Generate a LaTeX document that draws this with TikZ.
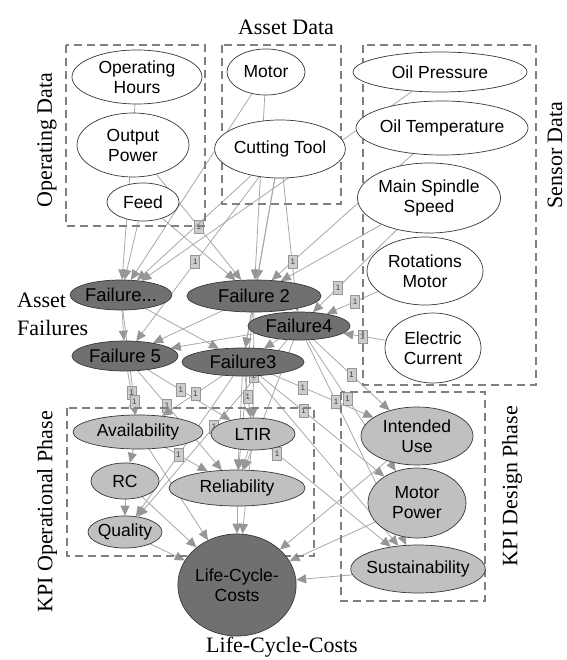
\documentclass[tikz,border=0pt]{standalone}
\usepackage{fontspec}
\setmainfont{Liberation Serif}
\setsansfont{Liberation Sans}
\usetikzlibrary{shapes.geometric,arrows.meta}

\definecolor{edgecol}{RGB}{168,168,168}
\definecolor{tipcol}{RGB}{150,150,150}
\definecolor{failfill}{RGB}{112,112,112}
\definecolor{kpifill}{RGB}{192,192,192}
\definecolor{boxcol}{RGB}{128,128,128}
\definecolor{rimcol}{RGB}{55,55,55}
\definecolor{lblfill}{RGB}{205,205,205}
\definecolor{lblrim}{RGB}{150,150,150}

\pgfdeclarelayer{edges}
\pgfsetlayers{edges,main}

\tikzset{
  ell/.style={ellipse, draw=rimcol, line width=0.7pt, inner sep=0pt, align=center,
              font=\sffamily\fontsize{17.5}{20}\selectfont},
  datanode/.style 2 args={ell, fill=white, minimum width=#1, minimum height=#2},
  failnode/.style 2 args={ell, fill=failfill, minimum width=#1, minimum height=#2,
              font=\sffamily\fontsize{18.5}{21}\selectfont},
  kpinode/.style 2 args={ell, fill=kpifill, minimum width=#1, minimum height=#2},
  costnode/.style 2 args={ell, fill=failfill, minimum width=#1, minimum height=#2},
  conn/.style={draw=edgecol, line width=0.8pt,
               -{Triangle[length=10pt,width=9pt,fill=tipcol,color=tipcol]}},
  lbl/.style={rectangle, fill=lblfill, draw=lblrim, line width=0.5pt, inner sep=0pt,
              minimum width=9pt, minimum height=13pt, text=black!75,
              font=\sffamily\fontsize{8}{8}\selectfont},
  grpbox/.style={draw=boxcol, line width=1.8pt, dash pattern=on 8pt off 5pt},
  grptitle/.style={font=\fontsize{22}{28}\selectfont, inner sep=0pt, align=left},
}

\begin{document}
\begin{tikzpicture}[x=1pt,y=-1pt]
  \useasboundingbox (0,0) rectangle (566,660);

  % group frames
  \draw[grpbox] (66,45) rectangle (205,226);
  \draw[grpbox] (222,45) rectangle (341,204);
  \draw[grpbox] (363,45) rectangle (536,385);
  \draw[grpbox] (67,408) rectangle (314,556);
  \draw[grpbox] (341,392) rectangle (485,601);

  % group titles
  \node[grptitle, anchor=base] (tasset) at (286,35) {Asset Data};
  \node[grptitle, rotate=90] (topdata) at (47,140) {Operating Data};
  \node[grptitle, rotate=90] (tsensor) at (555,155) {Sensor Data};
  \node[grptitle, anchor=west] (tfail) at (17,314) {Asset\\Failures};
  \node[grptitle, rotate=90] (tkpiop) at (47,512) {KPI Operational Phase};
  \node[grptitle, rotate=90] (tkpids) at (512,486) {KPI Design Phase};
  \node[grptitle, anchor=base] (tlcc) at (282,652) {Life-Cycle-Costs};

  % operating data
  \node[datanode={130pt}{54pt}] (oh) at (137,77) {Operating\\Hours};
  \node[datanode={112pt}{64pt}] (op) at (133,145) {Output\\Power};
  \node[datanode={72pt}{38pt}] (feed) at (143,202) {Feed};
  % asset data
  \node[datanode={78pt}{46pt}] (motor) at (266,72) {Motor};
  \node[datanode={112pt}{58pt}] (ct) at (280,149) {Cutting Tool};
  % sensor data
  \node[datanode={174pt}{40pt}, inner sep=-3pt] (oilp) at (440,72) {Oil Pressure};
  \node[datanode={172pt}{54pt}, inner sep=-4pt] (oilt) at (442,128) {Oil Temperature};
  \node[datanode={128pt}{70pt}] (mss) at (429,198) {Main Spindle\\Speed};
  \node[datanode={116pt}{68pt}] (rm) at (425,271) {Rotations\\Motor};
  \node[datanode={96pt}{70pt}] (ec) at (433,348) {Electric\\Current};
  % asset failures
  \node[failnode={98pt}{30pt}] (f1) at (121,295) {Failure...};
  \node[failnode={134pt}{32pt}] (f2) at (254,296) {Failure 2};
  \node[failnode={102pt}{28pt}] (f4) at (299,326) {Failure4};
  \node[failnode={106pt}{30pt}] (f5) at (125,356) {Failure 5};
  \node[failnode={122pt}{28pt}] (f3) at (243,362) {Failure3};
  % KPI operational phase
  \node[kpinode={130pt}{34pt}, inner sep=-3pt] (av) at (138,432) {Availability};
  \node[kpinode={84pt}{32pt}] (ltir) at (253,434) {LTIR};
  \node[kpinode={68pt}{36pt}] (rc) at (125,481) {RC};
  \node[kpinode={136pt}{36pt}] (rel) at (237,488) {Reliability};
  \node[kpinode={74pt}{32pt}, inner sep=-3pt] (qual) at (125,532) {Quality};
  % KPI design phase
  \node[kpinode={112pt}{58pt}] (iu) at (417,436) {Intended\\Use};
  \node[kpinode={98pt}{70pt}] (mp) at (417,503) {Motor\\Power};
  \node[kpinode={130pt}{48pt}, inner sep=-4pt] (sus) at (418,569) {Sustainability};
  % life-cycle costs
  \node[costnode={108pt}{102pt}] (lcc) at (237,585) {Life-Cycle-\\Costs};

  \begin{pgfonlayer}{edges}
    % data -> failures
    \draw[conn] (oh) -- (f1);
    \draw[conn] (feed) -- (f1);
    \draw[conn] (op) -- node[lbl,pos=.5]{1} (f2);
    \draw[conn] (feed) -- (f2);
    \draw[conn] (motor) -- (f1);
    \draw[conn] (motor) -- (f2);
    \draw[conn] (ct) -- (f1);
    \draw[conn] (ct) -- (f2);
    \draw[conn] (ct) -- (f3);
    \draw[conn] (ct) -- (f4);
    \draw[conn] (ct) -- node[lbl,pos=.52]{1} (f5);
    \draw[conn] (oilp) -- (f1);
    \draw[conn] (oilt) -- node[lbl,pos=.85]{1} (f2);
    \draw[conn] (mss) -- (f2);
    \draw[conn] (mss) -- node[lbl,pos=.7]{1} (f4);
    \draw[conn] (rm) -- node[lbl,pos=.45]{1} (f4);
    \draw[conn] (ec) -- node[lbl,pos=.55]{1} (f4);
    % failures -> failures
    \draw[conn] (f1) -- (f5);
    \draw[conn] (f2) -- (f5);
    \draw[conn] (f4) -- (f5);
    \draw[conn] (f1) -- (f3);
    \draw[conn] (f2) -- (f3);
    \draw[conn] (f4) -- (f3);
    % failures -> KPIs
    \draw[conn] (f5) -- node[lbl,pos=.5]{1} (av);
    \draw[conn] (f1) -- node[lbl,pos=.88]{1} (av);
    \draw[conn] (f5) -- node[lbl,pos=.4]{1} (ltir);
    \draw[conn] (f5) -- node[lbl,pos=.35]{1} (rel);
    \draw[conn] (f3) -- node[lbl,pos=.45]{1} (av);
    \draw[conn] (f3) -- node[lbl,pos=.5]{1} (ltir);
    \draw[conn] (f3) -- (rel);
    \draw[conn] (f3) -- (qual);
    \draw[conn] (f3) -- node[lbl,pos=.3]{1} (iu);
    \draw[conn] (f3) -- node[lbl,pos=.35]{1} (mp);
    \draw[conn] (f3) -- (sus);
    \draw[conn] (f2) -- node[lbl,pos=.6]{1} (ltir);
    \draw[conn] (f2) -- (rel);
    \draw[conn] (f4) -- node[lbl,pos=.5]{1} (iu);
    \draw[conn] (f4) -- node[lbl,pos=.45]{1} (mp);
    \draw[conn] (f4) -- (rel);
    \draw[conn] (f4) -- node[lbl,pos=.49]{1} (qual);
    \draw[conn] (f4) -- node[lbl,pos=.3]{1} (sus);
    % KPIs -> KPIs and costs
    \draw[conn] (av) -- (rc);
    \draw[conn] (rc) -- (qual);
    \draw[conn] (av) -- node[lbl,pos=.3]{1} (rel);
    \draw[conn] (av) -- (lcc);
    \draw[conn] (rc) -- (lcc);
    \draw[conn] (qual) -- (lcc);
    \draw[conn] (ltir) -- (rel);
    \draw[conn] (ltir) -- (lcc);
    \draw[conn] (ltir) -- node[lbl,pos=.05]{1} (sus);
    \draw[conn] (rel) -- (lcc);
    \draw[conn] (iu) -- (lcc);
    \draw[conn] (mp) -- (lcc);
    \draw[conn] (sus) -- (lcc);
  \end{pgfonlayer}
\end{tikzpicture}
\end{document}
